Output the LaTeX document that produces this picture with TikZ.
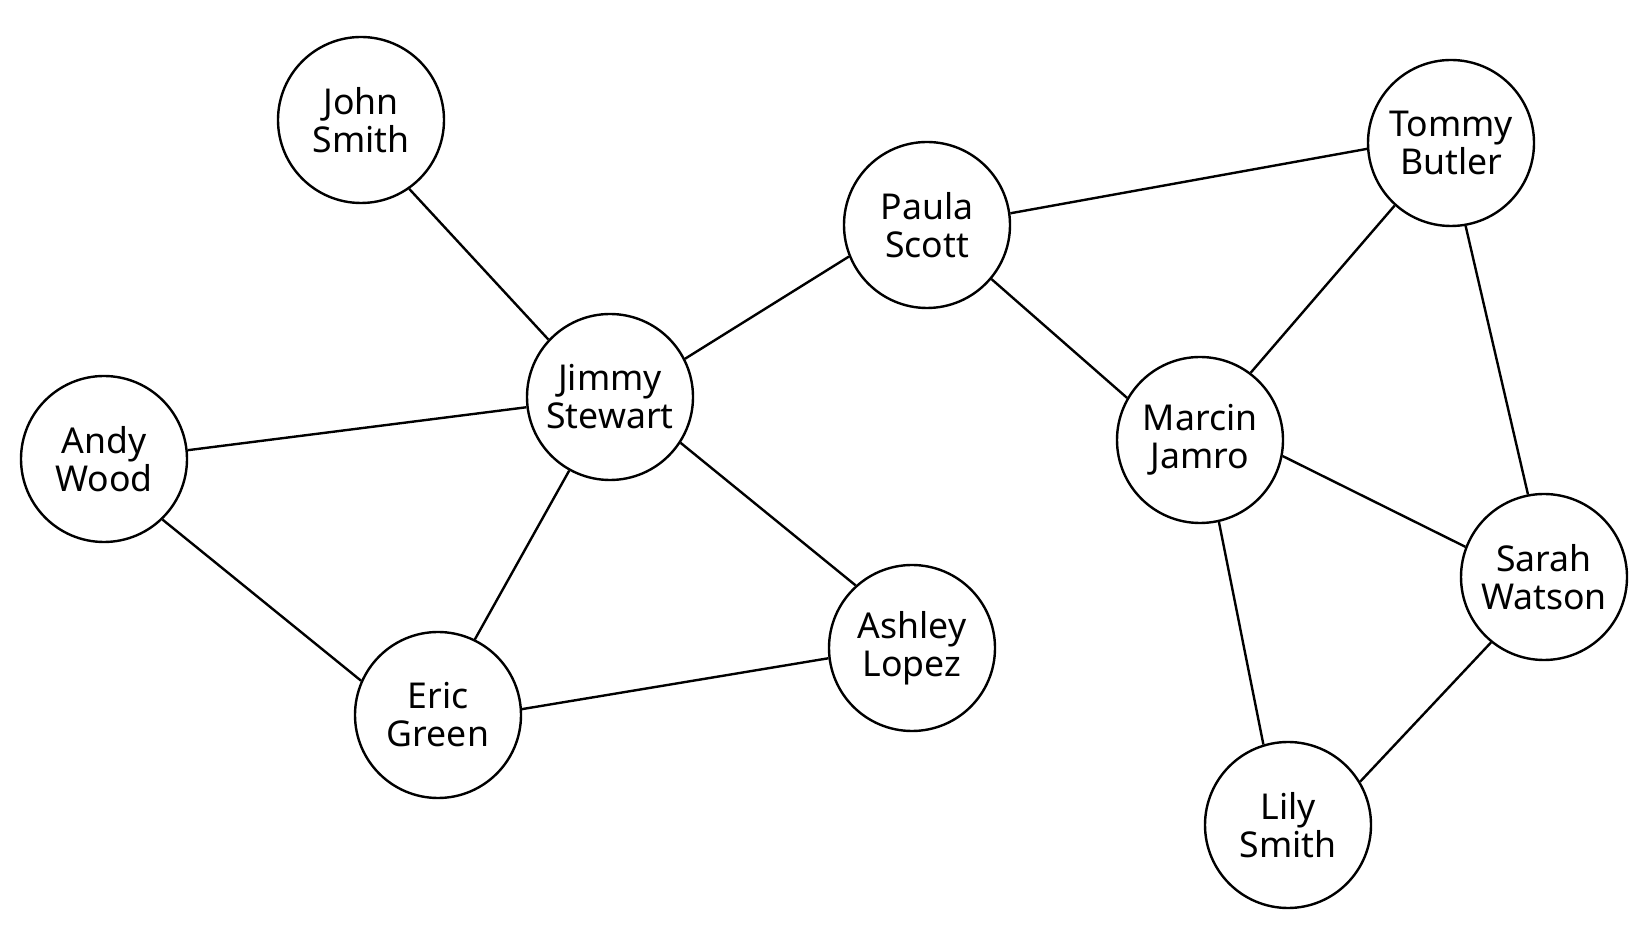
\documentclass[tikz,border=0pt]{standalone}
\usepackage{fontspec}
\setmainfont{Noto Sans}
\begin{document}
\begin{tikzpicture}[x=0.5pt,y=-0.5pt,
  person/.style={draw,circle,line width=1.2pt,minimum size=83pt,inner sep=0pt,align=center,font=\fontsize{17.8}{19}\selectfont},
  tie/.style={line width=1.2pt}]
\useasboundingbox (0,0) rectangle (1649,945);
\foreach \kn/\kx/\ky/\klb in {john/361/120/{John\\Smith},jimmy/610/397/{Jimmy\\Stewart},andy/104/459/{Andy\\Wood},eric/438/715/{Eric\\Green},ashley/912/648/{Ashley\\Lopez},paula/927/225/{Paula\\Scott},tommy/1451/143/{Tommy\\Butler},marcin/1200/440/{Marcin\\Jamro},sarah/1544/577/{Sarah\\Watson},lily/1288/825/{Lily\\Smith}}{\node[person](\kn) at (\kx,\ky){\klb};}
\foreach \ka/\kb in {john.-55/jimmy.137,andy.6/jimmy.187,andy.-46/eric.156,jimmy.-119/eric.64,jimmy.-33/ashley.132,jimmy.27/paula.202,eric.4/ashley.187,paula.8/tommy.184,paula.-40/marcin.150,tommy.228/marcin.53,tommy.-80/sarah.101,marcin.-11/sarah.159,marcin.-77/lily.107,sarah.231/lily.31}{\draw[tie](\ka)--(\kb);}
\end{tikzpicture}
\end{document}
